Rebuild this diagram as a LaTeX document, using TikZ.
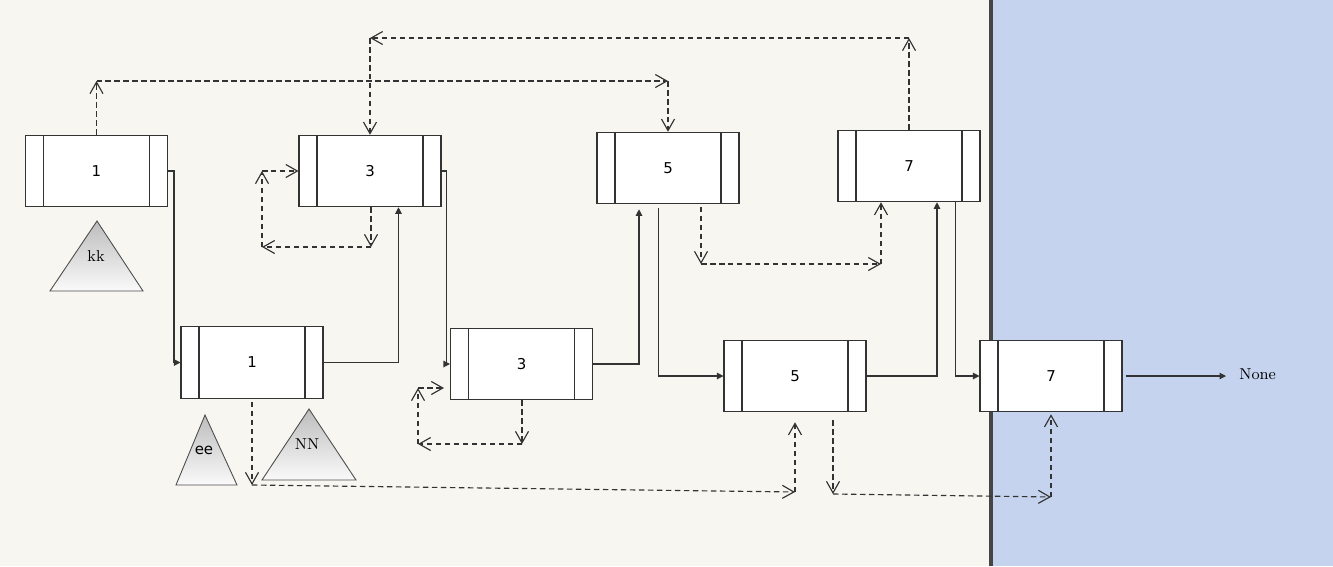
\documentclass[tikz,border=0pt]{standalone}
\usepackage{fontspec}
\newfontfamily\cellfont{DejaVu Sans}
\usetikzlibrary{arrows.meta}
\definecolor{paper}{HTML}{F8F6F0}
\definecolor{panel}{HTML}{C5D3EE}
\definecolor{edge}{HTML}{333333}
\definecolor{bar}{HTML}{454545}

\begin{document}
\begin{tikzpicture}[x=0.02cm, y=-0.02cm,
  cell/.style={draw=edge, line width=0.6pt, fill=white, minimum width=2.84cm,
    minimum height=1.43cm, inner sep=0pt, font=\cellfont\fontsize{8.5}{10}\selectfont,
    path picture={
      \draw[edge, line width=0.6pt] ([xshift=0.36cm]path picture bounding box.north west) -- ([xshift=0.36cm]path picture bounding box.south west);
      \draw[edge, line width=0.6pt] ([xshift=-0.36cm]path picture bounding box.north east) -- ([xshift=-0.36cm]path picture bounding box.south east);}},
  next/.style={edge, line width=0.6pt, -{Triangle[length=1.3mm,width=1.3mm]}},
  link/.style={edge, line width=0.65pt, dash pattern=on 1.1mm off 0.7mm,
    -{Straight Barb[length=2.3mm,width=2.6mm]}},
  heap/.style={draw=black!70, line width=0.5pt, top color=black!26, bottom color=black!2},
  tag/.style={font=\rmfamily\fontsize{9}{10}\selectfont}]
  % Background
  \fill[paper] (0,0) rectangle (989,566);
  \fill[bar] (989,0) rectangle (993,566);
  \fill[panel] (993,0) rectangle (1333,566);
  \useasboundingbox (0,0) rectangle (1333,566);
  % Cells
  \node[cell] (top1) at (96.5,171) {1};
  \node[cell] (bot1) at (252,362.5) {1};
  \node[cell] (top3) at (370,171) {3};
  \node[cell] (bot3) at (521.5,364) {3};
  \node[cell] (top5) at (668,168) {5};
  \node[cell] (bot5) at (795,376) {5};
  \node[cell] (top7) at (909,166) {7};
  \node[cell] (bot7) at (1051,376) {7};
  % Subtrees
  \shadedraw[heap] (97,221) -- (143,291) -- (50,291) -- cycle;
  \node[tag] (kk) at (96,256) {kk};
  \shadedraw[heap] (205,415) -- (237,485) -- (176,485) -- cycle;
  \node[font=\cellfont\fontsize{8.5}{10}\selectfont] (ee) at (204,450) {ee};
  \shadedraw[heap] (309,409) -- (356,480) -- (262,480) -- cycle;
  \node[tag] (NN) at (307,444) {NN};
  % Next pointers
  \draw[next] (top1.east) -- ++(6,0) |- (bot1.west);
  \draw[next] (bot1.east) -| ([xshift=0.57cm]top3.south);
  \draw[next] (top3.east) -- ++(5,0) |- (bot3.west);
  \draw[next, shorten >=1mm] (bot3.east) -| ([xshift=-0.58cm]top5.south);
  \draw[next, shorten <=0.7mm] ([xshift=-0.19cm]top5.south) |- (bot5.west);
  \draw[next] (bot5.east) -| ([xshift=0.56cm]top7.south);
  \draw[next] ([xshift=0.93cm]top7.south) |- (bot7.west);
  \node[tag, anchor=west, inner sep=0pt] (none) at (1239,374) {None};
  \draw[next, shorten <=0.6mm, shorten >=2.6mm] (bot7.east) -- (bot7.east -| none.west);
  % Upper hops
  \coordinate (h1) at (96.5,81);
  \coordinate (h2) at (668,81);
  \draw[link] (top1.north) -- (h1);
  \draw[link] (h1) -- (h2);
  \draw[link] (h2) -- (top5.north);
  \coordinate (h3) at (909,38);
  \coordinate (h4) at (370,38);
  \draw[link] (top7.north) -- (h3);
  \draw[link] (h3) -- (h4);
  \draw[link] (h4) -- (top3.north);
  % Self loops
  \coordinate (l1) at (371,247);
  \coordinate (l2) at (262,247);
  \coordinate (l3) at (262,171);
  \draw[link] (l1 |- top3.south) -- (l1);
  \draw[link] (l1) -- (l2);
  \draw[link] (l2) -- (l3);
  \draw[link] (l3) -- (top3.west);
  \coordinate (m1) at (522,444);
  \coordinate (m2) at (418,444);
  \coordinate (m3) at (418,388);
  \draw[link] (m1 |- bot3.south) -- (m1);
  \draw[link] (m1) -- (m2);
  \draw[link] (m2) -- (m3);
  \draw[link, shorten >=1.2mm] (m3) -- (m3 -| bot3.west);
  % Lower hops
  \coordinate (k1) at (701,264);
  \coordinate (k2) at (881,264);
  \draw[link, shorten <=0.5mm] (k1 |- top5.south) -- (k1);
  \draw[link] (k1) -- (k2);
  \draw[link] (k2) -- (k2 |- top7.south);
  \coordinate (b1) at (252,485);
  \coordinate (b2) at (795,492);
  \draw[link, shorten <=0.6mm] (bot1.south) -- (b1);
  \draw[link] (b1) -- (b2);
  \draw[link, shorten >=2mm] (b2) -- (bot5.south);
  \coordinate (b3) at (833,494);
  \coordinate (b4) at (1051,497);
  \draw[link, shorten <=1.6mm] (b3 |- bot5.south) -- (b3);
  \draw[link] (b3) -- (b4);
  \draw[link, shorten >=0.4mm] (b4) -- (bot7.south);
\end{tikzpicture}
\end{document}
